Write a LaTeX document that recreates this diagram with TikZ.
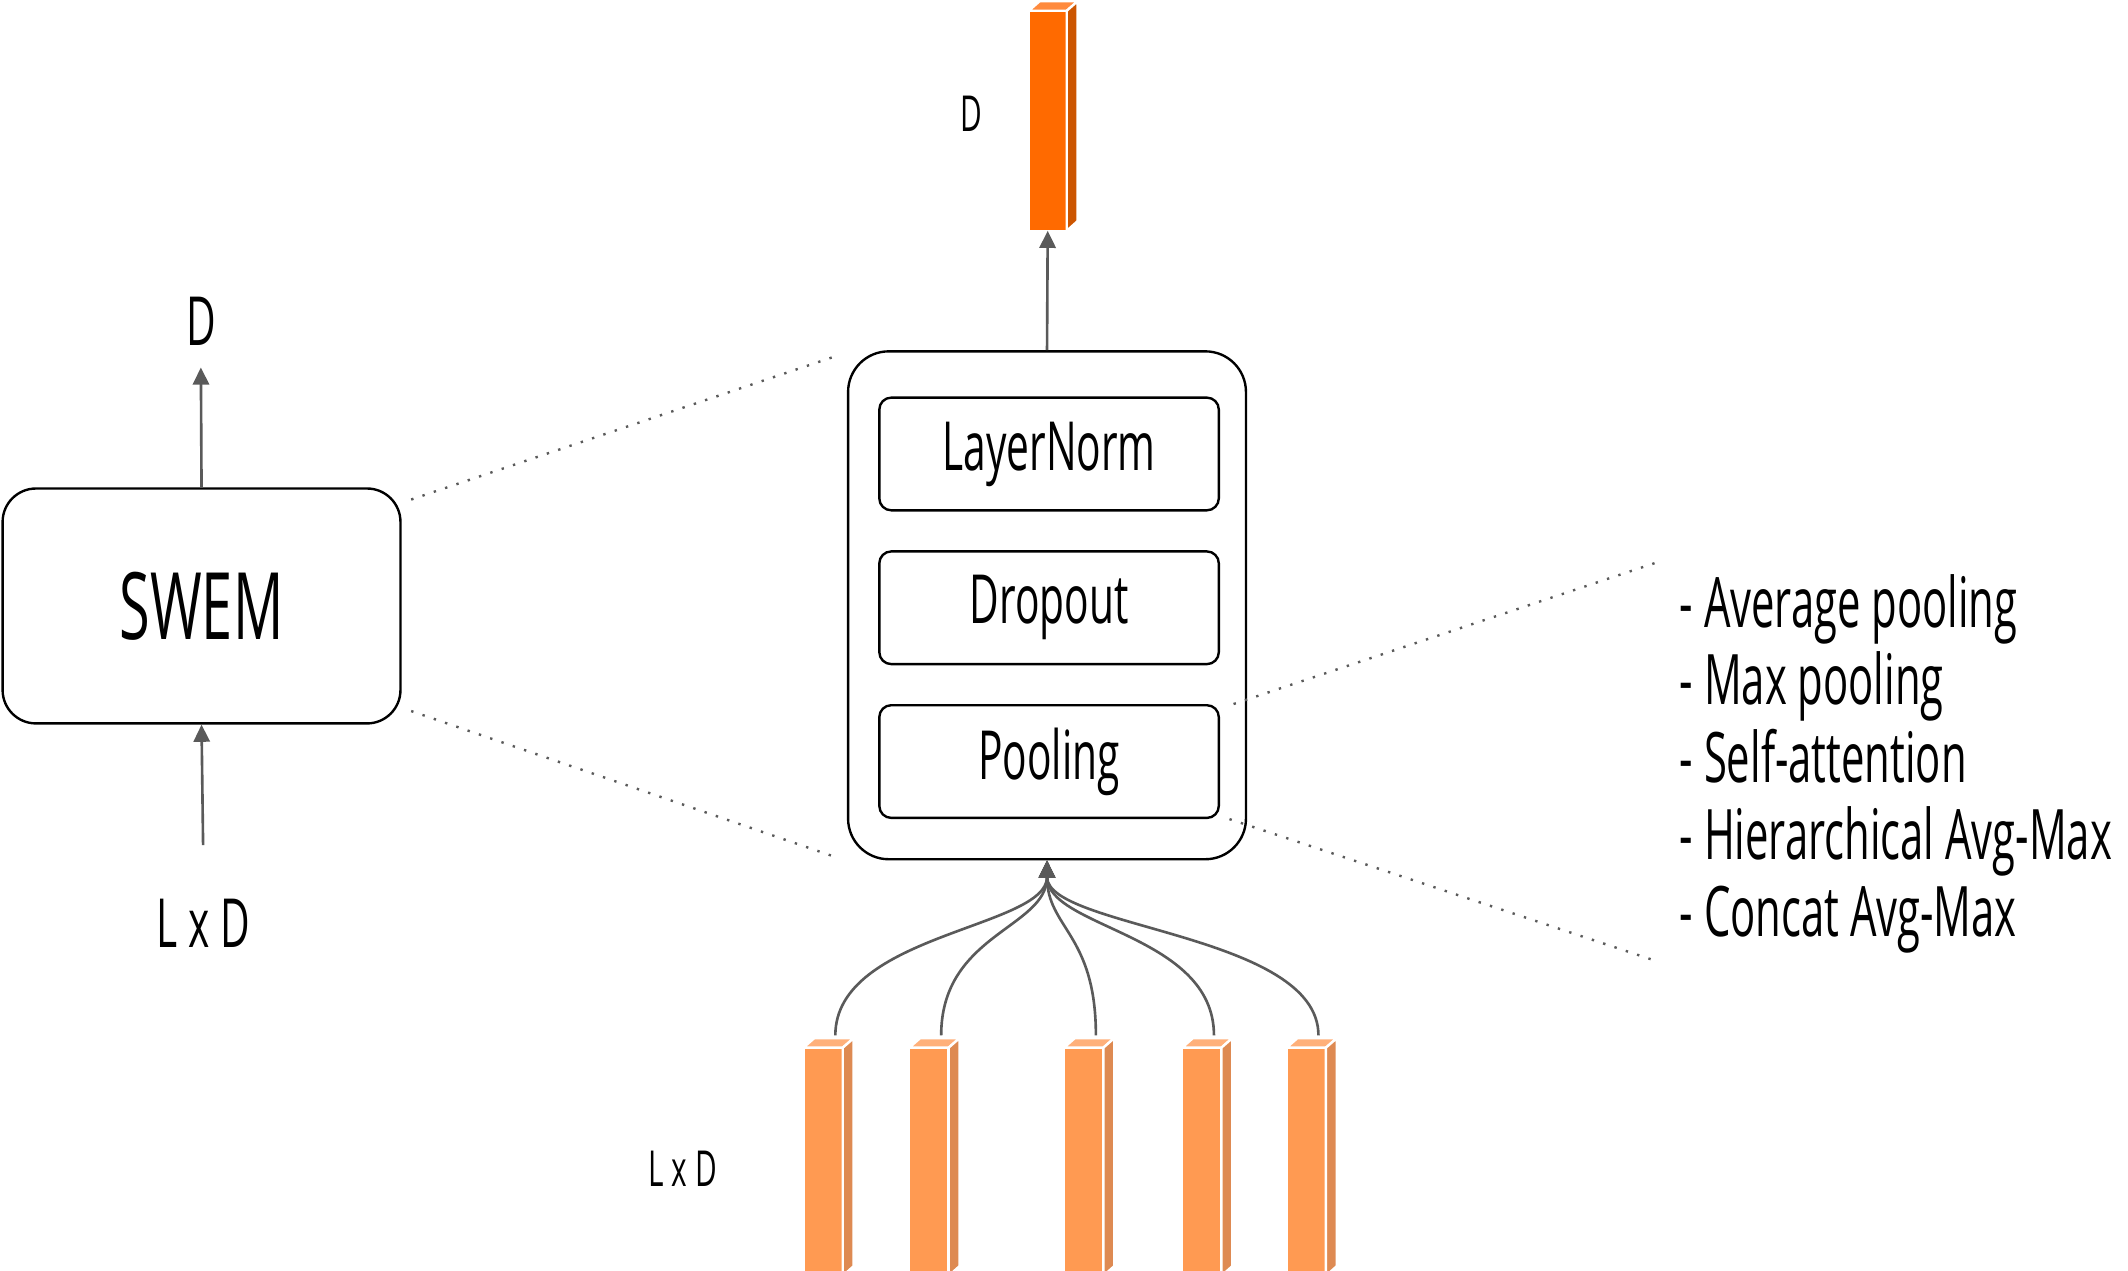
\documentclass[tikz,border=0pt]{standalone}
\usepackage{fontspec}
\setmainfont{Open Sans}[FakeStretch=0.6]
\usepackage{tikz}
\usetikzlibrary{arrows.meta, positioning}

\definecolor{outfront}{HTML}{FF6A00}
\definecolor{outside}{HTML}{CC5500}
\definecolor{outtop}{HTML}{FF8A3D}
\definecolor{tokfront}{HTML}{FF9A52}
\definecolor{tokside}{HTML}{DE8A52}
\definecolor{toktop}{HTML}{FFB07A}
\definecolor{wire}{HTML}{5A5A5A}

\begin{document}
\begin{tikzpicture}[
    x=0.01cm, y=-0.01cm,
    block/.style={rectangle, rounded corners=7pt, draw=black, line width=0.5pt, minimum width=2.93cm, minimum height=1.73cm, font=\fontsize{19.5}{22}\selectfont},
    stackbox/.style={rectangle, rounded corners=8.5pt, draw=black, line width=0.5pt, minimum width=2.93cm, minimum height=3.74cm},
    layer/.style={rectangle, rounded corners=2.5pt, draw=black, line width=0.5pt, minimum width=2.5cm, minimum height=0.83cm, font=\fontsize{14.2}{16}\selectfont},
    dimtext/.style={font=\fontsize{14.2}{16}\selectfont},
    dimsmall/.style={font=\fontsize{10.4}{12}\selectfont},
    arrow/.style={-{Triangle[length=3.6pt, width=3.4pt]}, wire, line width=0.55pt},
    zoomline/.style={wire, dotted, line width=0.5pt},
    vecbar/.style={rectangle, draw=white, line width=0.5pt, outer sep=0pt, inner sep=0pt}
]
\useasboundingbox (0,0) rectangle (1568,936);

% left: the SWEM block
\node[block] (swem) at (148.5,446.5) {SWEM};
\node[dimtext] (swemin) at (150,680) {L x D};
\node[dimtext] (swemout) at (148,237) {D};
\draw[arrow, shorten <=0.27cm] (swemin.north) -- (swem.south);
\draw[arrow, shorten >=1pt] (swem.north) -- (swemout.south);

% middle: what is inside
\node[stackbox] (stack) at (771.5,446) {};
\node[layer] (norm) at (773,334.5) {LayerNorm};
\node[layer, below=0.285cm of norm] (drop) {Dropout};
\node[layer, below=0.285cm of drop] (pool) {Pooling};

\draw[zoomline] ([shift={(7,9)}]swem.north east) -- ([shift={(-7,4)}]stack.north west);
\draw[zoomline] ([shift={(7,-10)}]swem.south east) -- ([shift={(-7,-2)}]stack.south west);

% output vector
\node[vecbar, fill=outfront, minimum width=0.28cm, minimum height=1.62cm] (outvec) at (772,89) {};
\filldraw[fill=outtop, draw=white, line width=0.5pt] (outvec.north west) -- ++(8,-7) -- ++(28,0) -- (outvec.north east) -- cycle;
\filldraw[fill=outside, draw=white, line width=0.5pt] (outvec.south east) -- (outvec.north east) -- ++(8,-7) -- ++(0,162) -- cycle;
\node[dimsmall] (outlab) at (716,84) {D};
\draw[arrow] (stack.north) -- (outvec.south);

% input vectors
\foreach \x [count=\i] in {606.5, 684.5, 798.5, 885.5, 962.5} {
  \node[vecbar, fill=tokfront, minimum width=0.29cm, minimum height=1.68cm] (tok\i) at (\x,856) {};
  \filldraw[fill=toktop, draw=white, line width=0.5pt] (tok\i.north west) -- ++(8,-7) -- ++(29,0) -- (tok\i.north east) -- cycle;
  \filldraw[fill=tokside, draw=white, line width=0.5pt] (tok\i.south east) -- (tok\i.north east) -- ++(8,-7) -- ++(0,168) -- cycle;
  \coordinate (top\i) at ([shift={(9,-9)}]tok\i.north);
  \draw[arrow] (top\i) .. controls +(0,-75) and +(0,50) .. (stack.south);
}
\node[dimsmall] (toklab) at (503,861) {L x D};

% pooling choices
\node[dimtext, anchor=west, align=left, inner sep=0pt, font=\fontsize{14.6}{16.2}\selectfont] (methods) at (1237,563) {- Average pooling\\- Max pooling\\- Self-attention\\- Hierarchical Avg-Max\\- Concat Avg-Max};
\coordinate (methodstop) at (1222,414);
\coordinate (methodsbot) at (1220,708);
\draw[zoomline] ([shift={(10,0)}]pool.north east) -- (methodstop);
\draw[zoomline] ([shift={(7,0)}]pool.south east) -- (methodsbot);

\end{tikzpicture}
\end{document}
